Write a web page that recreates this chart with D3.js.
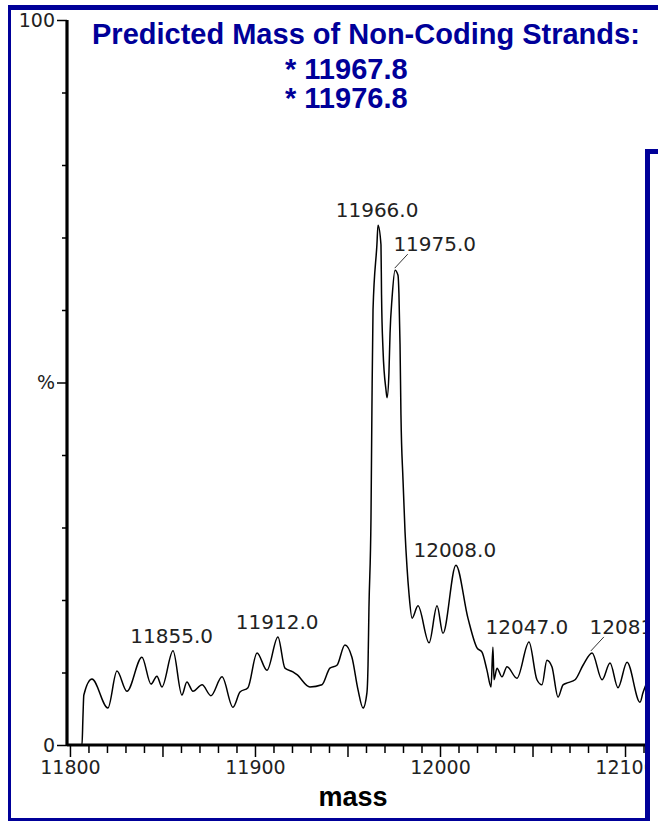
<!DOCTYPE html>
<html>
<head>
<meta charset="utf-8">
<script src="https://cdn.jsdelivr.net/npm/d3@7"></script>
<style>
  body { margin: 0; background: #fff; }
  svg { display: block; }
</style>
</head>
<body>
<div id="chart"><svg></svg></div>
<script>
// spectrum trace (mass, % intensity)
var massValues = [11798.4, 11806.5, 11807, 11807.5, 11811.9, 11820.5, 11825.4, 11830.8, 11838.9, 11843.8,
  11847, 11849.7, 11855.7, 11860.5, 11863.2, 11866.5, 11871.4, 11876.2, 11882.2, 11888.1,
  11891.9, 11896.2, 11901.1, 11906.5, 11912.4, 11916.2, 11920.5, 11922.7, 11929.7, 11936.2,
  11940.5, 11944.3, 11948.6, 11952.4, 11955.7, 11958.4, 11960.5, 11961.1, 11961.6, 11962.7,
  11963.2, 11963.8, 11965.9, 11966.5, 11968.1, 11968.4, 11969.2, 11970.8, 11971.4, 11972.4,
  11973, 11974.1, 11975.7, 11977.3, 11977.8, 11978.4, 11978.9, 11980, 11981.1, 11982.2,
  11983.2, 11984.9, 11988.1, 11994.1, 11998.4, 12001.6, 12008.6, 12015.1, 12020, 12022.7,
  12025.4, 12027.6, 12028.6, 12029.2, 12030.8, 12033.5, 12036.2, 12041.6, 12048.1, 12052.4,
  12055.1, 12057.8, 12060.5, 12063.8, 12066.5, 12069.2, 12073, 12077.3, 12082.2, 12087.6,
  12091.9, 12096.2, 12101.1, 12108.1, 12109.7, 12112.4];
var intensityValues = [0, 0, 3.7, 6.9, 9.1, 5.1, 10.2, 7.4, 12.1, 8.4,
  9.5, 8.0, 13.0, 6.9, 8.7, 7.4, 8.3, 6.8, 9.4, 5.2,
  7.3, 7.9, 12.7, 10.3, 14.9, 10.6, 10.1, 9.7, 8.0, 8.3,
  10.6, 11.0, 13.8, 12.1, 7.6, 5.1, 7.2, 11.0, 18.9, 31.3,
  46.2, 60.0, 69.0, 71.7, 69.0, 62.1, 54.5, 49.0, 47.9, 51.3,
  56.8, 61.7, 65.5, 64.8, 62.3, 55.2, 45.5, 36.6, 29.4, 24.4,
  21.0, 17.5, 19.2, 14.1, 19.2, 15.4, 24.8, 17.5, 13.4, 12.8,
  10.3, 8.0, 13.5, 9.0, 10.6, 9.4, 10.8, 9.2, 14.2, 9.0,
  8.3, 11.7, 10.8, 6.6, 8.3, 8.6, 9.0, 11.0, 12.7, 9.0,
  11.3, 7.9, 11.4, 5.9, 7.2, 9.0];

var peakLabels = ["11855.0", "11912.0", "11966.0", "11975.0", "12008.0", "12047.0", "12081.0"];
var leaderPeaks = ["11975.0", "12081.0"];

var xTickLabels = [11800, 11900, 12000, 12100];
var yTickLabels = { 0: "0", 50: "%", 100: "100" };

var titleLine = "Predicted Mass of Non-Coding Strands:";
var predictedMasses = ["* 11967.8", "* 11976.8"];
var xAxisTitle = "mass";

var width = 658, height = 822;
var blue = "#000099";

var svg = d3.select("#chart svg").attr("width", width).attr("height", height);
svg.append("rect").attr("width", width).attr("height", height).attr("fill", "#fff");

var x = d3.scaleLinear().domain([11798.4, 12110.8]).range([67, 645]);
var y = d3.scaleLinear().domain([0, 100]).range([745, 20]);

svg.append("clipPath").attr("id", "plotclip")
  .append("rect").attr("x", 0).attr("y", 0).attr("width", 645).attr("height", height);

var g = svg.append("g").attr("clip-path", "url(#plotclip)");

var data = massValues.map(function (m, i) { return { mass: m, pct: intensityValues[i] }; });

// trace
g.append("path")
  .datum(data)
  .attr("fill", "none")
  .attr("stroke", "#000")
  .attr("stroke-width", 1.5)
  .attr("stroke-linejoin", "round")
  .attr("d", d3.line()
    .curve(d3.curveMonotoneX)
    .x(function (d) { return x(d.mass); })
    .y(function (d) { return y(d.pct); }));

// x axis
var xAxis = d3.axisBottom(x)
  .tickValues(d3.range(11800, 12111, 10))
  .tickSizeOuter(0)
  .tickFormat(function (d) { return xTickLabels.indexOf(d) >= 0 ? d : ""; });
var xg = g.append("g").attr("transform", "translate(0," + y(0) + ")").call(xAxis);
xg.select(".domain").attr("stroke-width", 3).attr("d", "M" + x.range()[0] + ",0H" + x.range()[1]);
xg.selectAll(".tick line")
  .attr("stroke-width", 1.5)
  .attr("y2", function (d) { return d % 50 === 0 ? 12 : 8; });
xg.selectAll(".tick text")
  .attr("y", 16)
  .attr("font-family", "DejaVu Sans")
  .attr("font-size", 19)
  .attr("fill", "#222");

// y axis
var yAxis = d3.axisLeft(y)
  .tickValues(d3.range(0, 101, 10))
  .tickSizeOuter(0)
  .tickFormat(function (d) { return yTickLabels[d] || ""; });
var yg = g.append("g").attr("transform", "translate(" + x.range()[0] + ",0)").call(yAxis);
yg.select(".domain").attr("stroke-width", 3.2).attr("d", "M0," + y(100) + "V" + (y(0) + 1));
yg.selectAll(".tick line")
  .attr("stroke-width", 1.5)
  .attr("x2", function (d) { return yTickLabels[d] ? -10 : -5; });
yg.selectAll(".tick text")
  .attr("x", -12)
  .attr("font-family", "DejaVu Sans")
  .attr("font-size", 19)
  .attr("fill", "#222");

// peak labels
function peakTop(mass) {
  var near = data.filter(function (d) { return Math.abs(d.mass - mass) <= 3; });
  return d3.max(near, function (d) { return d.pct; });
}
var peaks = g.append("g");
peakLabels.forEach(function (lab) {
  var m = +lab;
  var px = x(m), py = y(peakTop(m));
  var lead = leaderPeaks.indexOf(lab) >= 0;
  if (lead) {
    peaks.append("line")
      .attr("x1", px + 1).attr("y1", py - 2)
      .attr("x2", px + 14).attr("y2", py - 16)
      .attr("stroke", "#333").attr("stroke-width", 1);
  }
  peaks.append("text")
    .attr("x", lead ? px + 41 : px)
    .attr("y", lead ? py - 19 : py - 8)
    .attr("text-anchor", "middle")
    .attr("font-family", "DejaVu Sans")
    .attr("font-size", 20)
    .attr("fill", "#222")
    .text(lab);
});

// x axis title
svg.append("text")
  .attr("x", 353).attr("y", 806)
  .attr("text-anchor", "middle")
  .attr("font-family", "Liberation Sans, Arial, sans-serif")
  .attr("font-weight", "bold")
  .attr("font-size", 27)
  .attr("fill", "#000")
  .text(xAxisTitle);

// title block
var title = svg.append("g")
  .attr("font-family", "Liberation Sans, Arial, sans-serif")
  .attr("font-weight", "bold")
  .attr("font-size", 29)
  .attr("fill", blue);
title.append("text").attr("x", 92).attr("y", 44).text(titleLine);
title.selectAll("text.mass")
  .data(predictedMasses)
  .enter().append("text")
  .attr("class", "mass")
  .attr("x", 285)
  .attr("y", function (d, i) { return 79 + i * 29; })
  .text(function (d) { return d; });

// frame
var frame = svg.append("g").attr("fill", blue);
frame.append("rect").attr("x", 8).attr("y", 5).attr("width", 650).attr("height", 5);
frame.append("rect").attr("x", 8).attr("y", 5).attr("width", 3).attr("height", 816);
frame.append("rect").attr("x", 8).attr("y", 818).attr("width", 642).attr("height", 3);
frame.append("rect").attr("x", 645).attr("y", 149).attr("width", 5).attr("height", 672);
frame.append("rect").attr("x", 645).attr("y", 149).attr("width", 13).attr("height", 5);
</script>
</body>
</html>
